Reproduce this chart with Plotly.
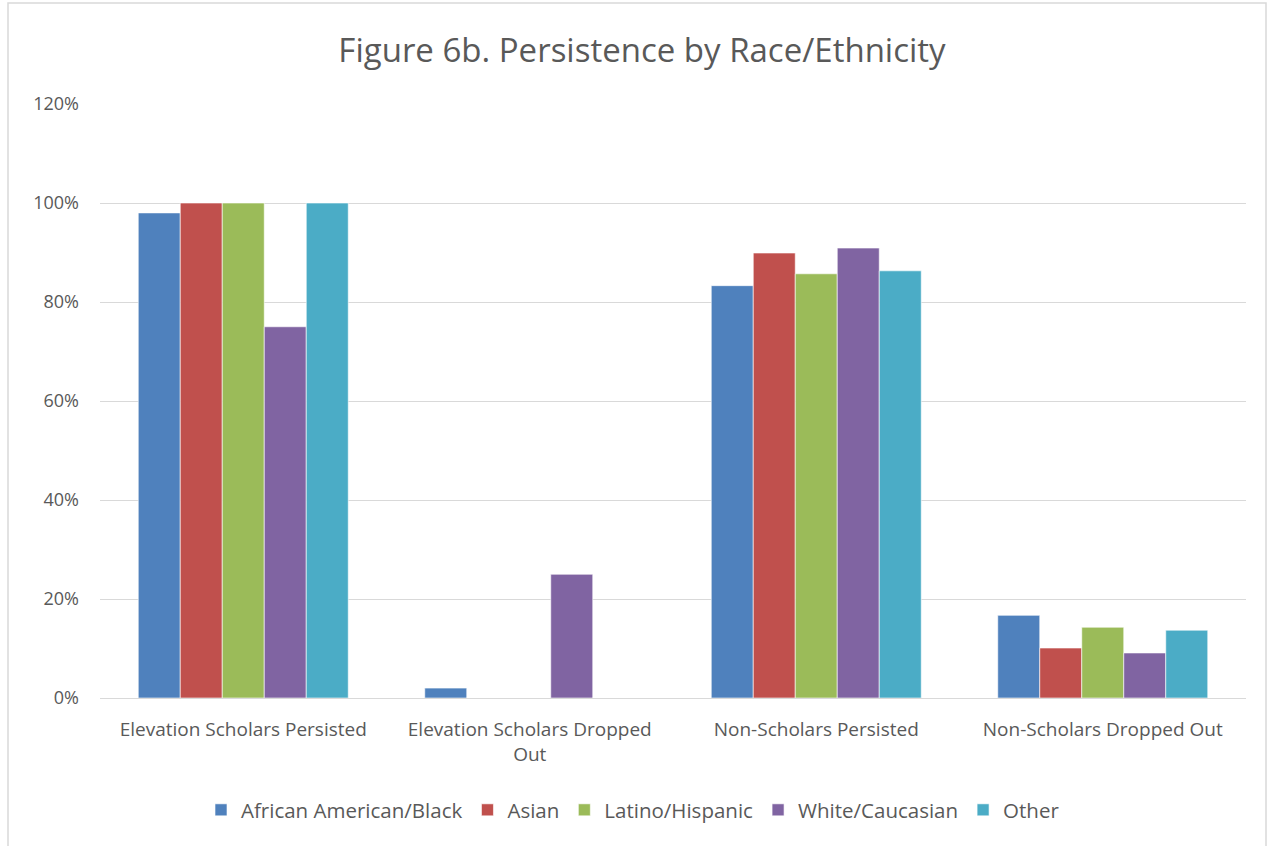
import plotly.graph_objects as go

categories = ["Elevation Scholars Persisted", "Elevation Scholars Dropped<br>Out",
              "Non-Scholars Persisted", "Non-Scholars Dropped Out"]
series_names = ["African American/Black", "Asian", "Latino/Hispanic", "White/Caucasian", "Other"]
african_american = [0.98, 0.02, 0.833, 0.167]
asian = [1.00, 0.0, 0.899, 0.101]
latino = [1.00, 0.0, 0.857, 0.143]
white = [0.75, 0.25, 0.909, 0.091]
other = [1.00, 0.0, 0.863, 0.137]
colors = ["#4F81BD", "#C0504D", "#9BBB59", "#8064A2", "#4BACC6"]
tick_vals = [0, 0.2, 0.4, 0.6, 0.8, 1.0, 1.2]
tick_text = ["0%", "20%", "40%", "60%", "80%", "100%", "120%"]

values = [african_american, asian, latino, white, other]

fig = go.Figure()
for name, vals, col in zip(series_names, values, colors):
    fig.add_trace(go.Bar(x=categories, y=vals, name=name, marker_color=col,
                         marker_line=dict(color="rgba(255,255,255,0.6)", width=1)))

W, H = 1270, 846
ml, mr, mt, mb = 100, 24, 104, 148
pw = W - ml - mr
ph = H - mt - mb

fig.update_layout(
    width=W, height=H,
    margin=dict(l=ml, r=mr, t=mt, b=mb),
    paper_bgcolor="white", plot_bgcolor="white",
    font=dict(family="Open Sans, DejaVu Sans, sans-serif", color="#595959", size=18),
    title=dict(text="Figure 6b. Persistence by Race/Ethnicity", xref="container",
               x=642 / W, xanchor="center", y=1 - 50 / H, yanchor="middle",
               font=dict(size=33, color="#595959")),
    barmode="group", bargap=0.267, bargroupgap=0,
    showlegend=True,
    legend=dict(orientation="h", x=(633 - ml) / pw, xanchor="center", y=-(810 - 698) / ph,
                yanchor="middle", font=dict(size=20.5, color="#595959"), itemwidth=30,
                traceorder="normal"),
    xaxis=dict(showgrid=False, showline=True, linecolor="#D9D9D9", linewidth=1,
               ticks="", ticklabelstandoff=14, tickfont=dict(size=19, color="#595959")),
    yaxis=dict(range=[0, 1.2], tickvals=tick_vals, ticktext=tick_text,
               showgrid=True, gridcolor="#D9D9D9", gridwidth=1, zeroline=False,
               showline=False, ticks="", ticklabelstandoff=20,
               tickfont=dict(size=18, color="#595959")),
    shapes=[dict(type="rect", xref="paper", yref="paper",
                 x0=(8 - ml) / pw, x1=(1266 - ml) / pw,
                 y0=-(H + 10 - (H - mb)) / ph, y1=(H - mb - 3) / ph,
                 line=dict(color="#D9D9D9", width=1.5), layer="below")],
)

fig.write_html("out.html")
